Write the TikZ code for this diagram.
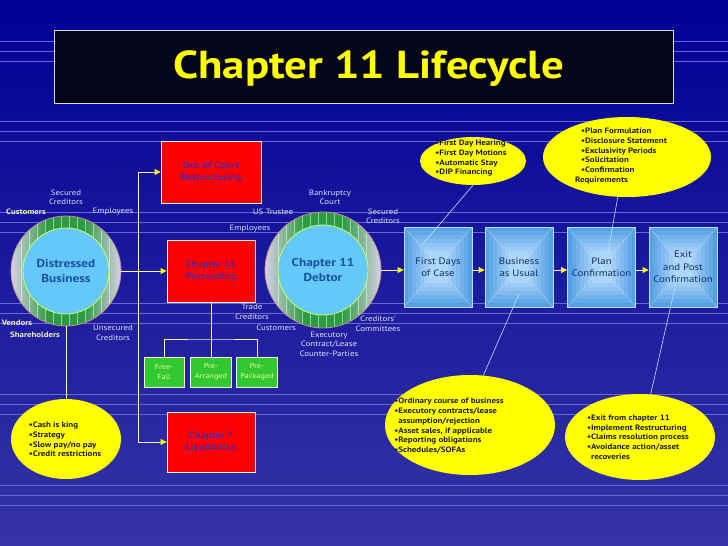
\documentclass[tikz,border=0pt]{standalone}
\usepackage{fontspec}
\setmainfont{PT Sans}[FakeStretch=1.15]
\usetikzlibrary{shapes.geometric,arrows.meta,calc}

\definecolor{bgtop}{RGB}{0,0,150}
\definecolor{bgbot}{RGB}{52,52,166}
\definecolor{bgline}{RGB}{105,105,205}
\definecolor{labtxt}{RGB}{225,225,245}
\definecolor{boldlab}{RGB}{240,240,190}
\definecolor{cream}{RGB}{245,245,200}
\definecolor{tipyel}{RGB}{255,255,0}
\definecolor{redfill}{RGB}{255,0,0}
\definecolor{redtxt}{RGB}{90,35,150}
\definecolor{grnfill}{RGB}{50,200,50}
\definecolor{grntxt}{RGB}{230,255,140}
\definecolor{ellfill}{RGB}{255,255,0}
\definecolor{elltxt}{RGB}{30,30,30}
\definecolor{boxdark}{RGB}{85,160,228}
\definecolor{boxlight}{RGB}{175,215,250}
\definecolor{boxedge}{RGB}{180,225,255}
\definecolor{boxtxt}{RGB}{20,45,110}
\definecolor{ringgreen}{RGB}{45,155,65}
\definecolor{ringside}{RGB}{215,210,230}
\definecolor{ringedge}{RGB}{200,140,150}
\definecolor{innerblue}{RGB}{100,200,250}
\definecolor{inneredge}{RGB}{200,255,100}
\definecolor{circtxt}{RGB}{25,80,160}
\definecolor{pointer}{RGB}{190,225,255}
\definecolor{titlefill}{RGB}{5,5,25}
\definecolor{titleedge}{RGB}{220,220,220}

\tikzset{
  lab/.style={text=labtxt, font=\fontsize{7.7}{9.5}\selectfont, align=center, inner sep=0},
  blab/.style={text=boldlab, font=\fontsize{7.7}{9.5}\selectfont\bfseries, inner sep=0},
  conn/.style={draw=cream, line width=0.9pt},
  arr/.style={conn, -{Triangle[length=6pt,width=6pt,color=tipyel]}},
  redbox/.style={draw=cream, line width=0.9pt, fill=redfill, text=redtxt,
    font=\fontsize{9.3}{12}\selectfont\bfseries, align=center, inner sep=0},
  grnbox/.style={draw=cream, line width=0.8pt, fill=grnfill, text=grntxt,
    font=\fontsize{7.2}{10}\selectfont, align=center, minimum width=41pt,
    minimum height=30pt, inner sep=0},
  ell/.style={ellipse, fill=ellfill, draw=none, inner sep=0},
  elltext/.style={text=elltxt, font=\fontsize{7.8}{9.7}\selectfont\bfseries, align=left, inner sep=0},
  stagebox/.style={minimum width=68pt, minimum height=80pt, draw=boxedge,
    line width=0.9pt, text=boxtxt, font=\fontsize{9.4}{12.3}\selectfont, align=center,
    inner sep=0,
    path picture={
      \foreach \i in {0,...,6}{
        \pgfmathtruncatemacro{\p}{\i*16}
        \fill[boxlight!\p!boxdark]
          ($(path picture bounding box.south west)+(\i*4pt,\i*4pt)$) rectangle
          ($(path picture bounding box.north east)-(\i*4pt,\i*4pt)$);
      }
      \draw[white, opacity=0.3, line width=0.6pt]
        (path picture bounding box.south west) -- (path picture bounding box.north east)
        (path picture bounding box.north west) -- (path picture bounding box.south east);
    }},
  ringnode/.style={circle, inner sep=0, draw=ringedge, line width=0.8pt,
    path picture={
      \fill[ringgreen] (path picture bounding box.south west) rectangle (path picture bounding box.north east);
      \shade[left color=ringside, right color=ringgreen]
        (path picture bounding box.south west) rectangle
        ($(path picture bounding box.north west)!0.33!(path picture bounding box.north east)$);
      \shade[left color=ringgreen, right color=ringside]
        ($(path picture bounding box.south west)!0.67!(path picture bounding box.south east)$) rectangle
        (path picture bounding box.north east);
      \foreach \dx in {-45,-37,...,45}{
        \draw[white, opacity=0.5, line width=0.5pt]
          ($(path picture bounding box.center)+(\dx pt,-70pt)$) -- ++(0pt,140pt);
      }
    }},
  innernode/.style={circle, inner sep=0, fill=innerblue, draw=inneredge, line width=0.8pt,
    text=circtxt, font=\fontsize{11.5}{15.5}\selectfont\bfseries, align=center},
  ptr/.style={draw=pointer, line width=0.6pt}
}

\begin{document}
\begin{tikzpicture}[x=1pt, y=-1pt]
\useasboundingbox (0,0) rectangle (728,546);
% background
\fill[top color=bgtop, bottom color=bgbot] (0,0) rectangle (728,546);
\foreach \g in {41,121,212,303,394,485}{
  \foreach \k in {0,10,20}{
    \draw[bgline, line width=0.6pt] (0,\g+\k) -- (728,\g+\k);
  }
}

% title
\node[draw=titleedge, fill=titlefill, line width=0.8pt, minimum width=619pt,
  minimum height=73pt] (title) at (363.5,66.5) {};
\node[text=tipyel, font=\fontsize{39}{40}\selectfont\bfseries, inner sep=0]
  (titletext) at (368.5,69) {Chapter 11 Lifecycle};

% distressed business
\node[ringnode, minimum size=110pt] (dbo) at (66,271) {};
\node[innernode, minimum size=86pt] (db) at (66,271) {Distressed\\Business};

% chapter 11 debtor
\node[ringnode, minimum size=116pt] (dco) at (323,270) {};
\node[innernode, minimum size=90pt] (dc) at (323,270) {Chapter 11\\Debtor};

% red boxes
\node[redbox, minimum width=100pt, minimum height=62pt] (ooc) at (211,172) {Out of Court\\Restructuring};
\node[redbox, minimum width=88pt, minimum height=62pt] (ch11p) at (211,271) {Chapter 11\\Proceeding};
\node[redbox, minimum width=88pt, minimum height=60pt] (ch7) at (211,442) {Chapter 7\\Liquidation};

% green boxes
\node[grnbox, minimum width=40pt] (ff) at (164,372) {Free-\\Fall};
\node[grnbox] (pa) at (211,372) {Pre-\\Arranged};
\node[grnbox] (pp) at (257,372) {Pre-\\Packaged};

% stage boxes
\node[stagebox] (b1) at (438,267) {First Days\\of Case};
\node[stagebox] (b2) at (519,267) {Business\\as Usual};
\node[stagebox] (b3) at (601.5,267) {Plan\\Confirmation};
\node[stagebox] (b4) at (683,267) {Exit\\and Post\\Confirmation};

% ellipses
\node[ell, minimum width=106pt, minimum height=48pt] (e1) at (473,161) {};
\node[elltext] (e1t) at (471,158.5) {•First Day Hearing\\•First Day Motions\\•Automatic Stay\\•DIP Financing};
\node[ell, minimum width=168pt, minimum height=80pt] (e2) at (627,157) {};
\node[elltext] (e2t) at (621,156) {\hspace*{6pt}•Plan Formulation\\\hspace*{6pt}•Disclosure Statement\\\hspace*{6pt}•Exclusivity Periods\\\hspace*{6pt}•Solicitation\\\hspace*{6pt}•Confirmation\\Requirements};
\node[ell, minimum width=110pt, minimum height=80pt] (e3) at (66,439) {};
\node[elltext] (e3t) at (65,439.5) {•Cash is king\\•Strategy\\•Slow pay/no pay\\•Credit restrictions};
\node[ell, minimum width=170pt, minimum height=100pt] (e4) at (470,425) {};
\node[elltext] (e4t) at (449,426) {•Ordinary course of business\\•Executory contracts/lease\\\hspace*{4pt}assumption/rejection\\•Asset sales, if applicable\\•Reporting obligations\\•Schedules/SOFAs};
\node[ell, minimum width=150pt, minimum height=86pt] (e5) at (640,437) {};
\node[elltext] (e5t) at (638,437) {•Exit from chapter 11\\•Implement Restructuring\\•Claims resolution process\\•Avoidance action/asset\\\hspace*{4pt}recoveries};

% labels around distressed business
\node[lab] (sc1) at (66,197.5) {Secured\\Creditors};
\node[blab] (cu1) at (26,212) {Customers};
\node[lab] (em1) at (113,212) {Employees};
\node[blab] (ve) at (17,323) {Vendors};
\node[blab] (sh) at (35,335) {Shareholders};
\node[lab] (un) at (113,333) {Unsecured\\Creditors};

% labels around chapter 11 debtor
\node[lab] (bk) at (330,197.5) {Bankruptcy\\Court};
\node[lab] (us) at (273,212) {US Trustee};
\node[lab] (em2) at (250,229) {Employees};
\node[lab] (sc2) at (383,216.5) {Secured\\Creditors};
\node[lab] (tr) at (252,312) {Trade\\Creditors};
\node[lab] (cu2) at (276,328) {Customers};
\node[lab] (ex) at (329,344) {Executory\\Contract/Lease\\Counter-Parties};
\node[lab] (cc) at (378,324) {Creditors'\\Committees};

% connectors
\coordinate (tA) at (138,172);
\coordinate (tB) at (138,442);
\draw[conn] (tA) -- (tB);
\draw[arr] (tA) -- (ooc.west);
\draw[arr] (tB) -- (ch7.west);
\draw[arr] (dbo.east) -- (ch11p.west);
\draw[conn] (dbo.south) -- (e3.north);

\coordinate (bar) at (211,339);
\draw[conn] (ch11p.south) -- (pa.north);
\draw[conn] (ff.north) |- (bar) -| (pp.north);

\draw[arr] (dco.east) -- (b1.west |- dco.east);
\draw[arr] (b1.east |- dco.east) -- (b2.west |- dco.east);
\draw[arr] (b2.east |- dco.east) -- (b3.west |- dco.east);
\draw[arr] (b3.east |- dco.east) -- (b4.west |- dco.east);

% pointers from ellipses
\coordinate (p1) at (422,245);
\coordinate (p2) at (607,258);
\coordinate (p4) at (519,294);
\coordinate (p5) at (676,283);
\draw[ptr] (e1.south) -- (p1);
\draw[ptr] (e2.257) -- (p2);
\draw[ptr] (e4.75) -- (p4);
\draw[ptr] (e5.76) -- (p5);
\end{tikzpicture}
\end{document}
